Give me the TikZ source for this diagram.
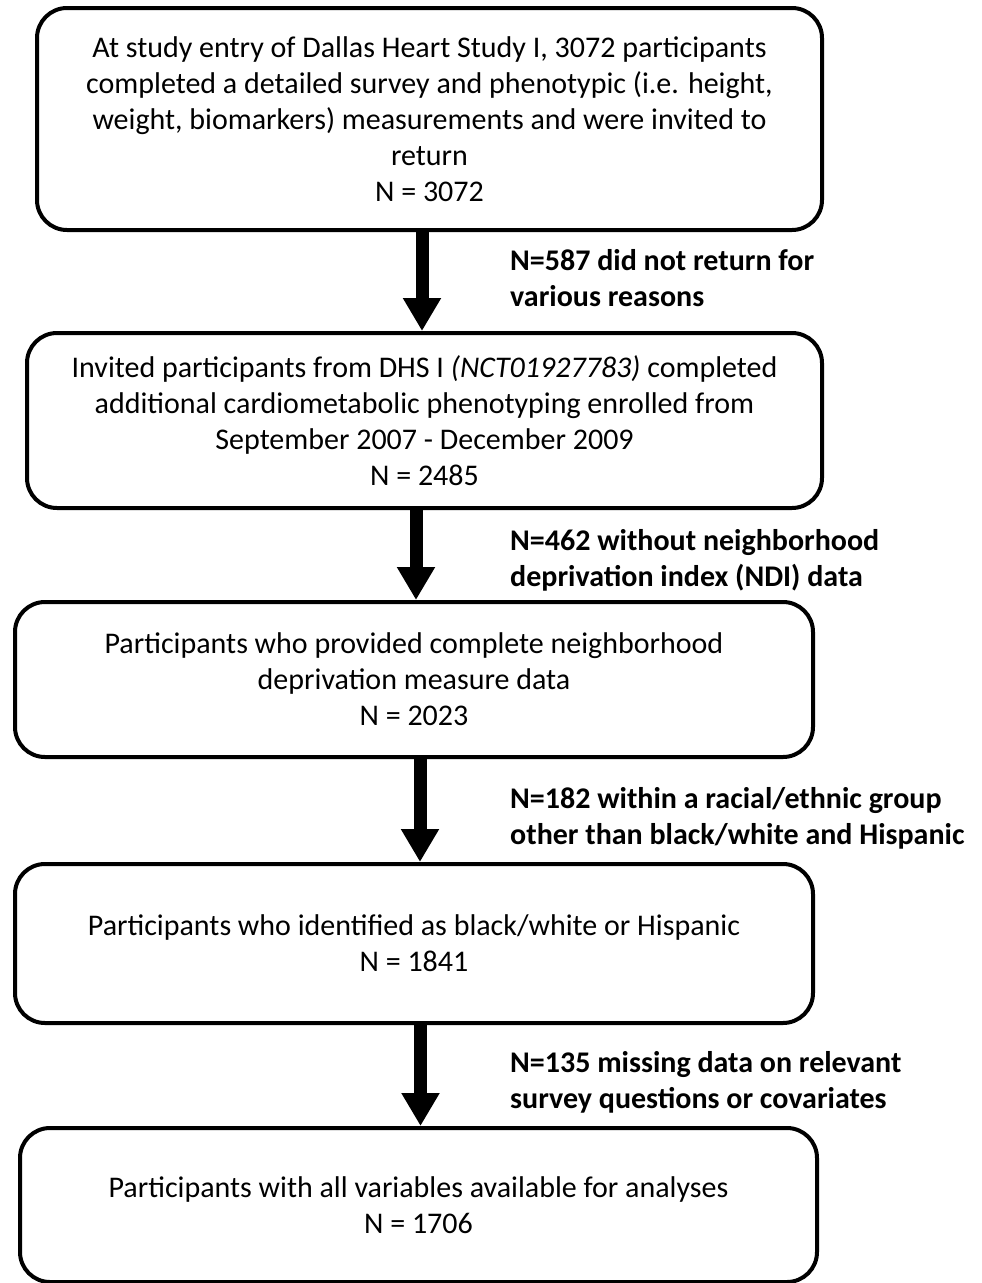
\documentclass[tikz,border=0pt]{standalone}
\usepackage{fontspec}
\setmainfont{Carlito}
\usetikzlibrary{arrows.meta}
\begin{document}
\begin{tikzpicture}[x=1pt,y=-1pt,
  box/.style={draw, line width=4pt, rounded corners=30pt, align=center,
    font=\fontsize{30}{36}\selectfont, inner sep=0pt},
  lab/.style={anchor=base west, align=left,
    font=\bfseries\fontsize{30}{36}\selectfont, inner sep=0pt},
  flow/.style={line width=13pt, -{Triangle[width=36pt,length=33pt]}}]
\useasboundingbox (0,0) rectangle (982,1283);

\node[box, minimum width=785pt, minimum height=222pt] (b1) at (429.5,119)
  {At study entry of Dallas Heart Study I, 3072 participants\\
   completed a detailed survey and phenotypic (i.e. height,\\
   weight, biomarkers) measurements and were invited to\\
   return\\
   N = 3072};
\node[box, minimum width=795pt, minimum height=175pt] (b2) at (424.5,420.5)
  {Invited participants from DHS I \textit{(NCT01927783)} completed\\
   additional cardiometabolic phenotyping enrolled from\\
   September 2007 - December 2009\\
   N = 2485};
\node[box, minimum width=798pt, minimum height=155pt] (b3) at (414,679.5)
  {Participants who provided complete neighborhood\\
   deprivation measure data\\
   N = 2023};
\node[box, minimum width=798pt, minimum height=159pt] (b4) at (414,943.5)
  {Participants who identified as black/white or Hispanic\\
   N = 1841};
\node[box, minimum width=797pt, minimum height=154pt] (b5) at (418.5,1205)
  {Participants with all variables available for analyses\\
   N = 1706};

\node[lab] (l1) at (510,306) {N=587 did not return for\\various reasons};
\node[lab] (l2) at (510,586) {N=462 without neighborhood\\deprivation index (NDI) data};
\node[lab] (l3) at (510,844) {N=182 within a racial/ethnic group\\other than black/white and Hispanic};
\node[lab] (l4) at (510,1108) {N=135 missing data on relevant\\survey questions or covariates};

\draw[flow] ([xshift=-7.5pt]b1.south) -- ([xshift=-7.5pt]b1.south |- b2.north);
\draw[flow] ([xshift=-8.5pt]b2.south) -- ([xshift=-8.5pt]b2.south |- b3.north);
\draw[flow] ([xshift=6pt]b3.south) -- ([xshift=6pt]b3.south |- b4.north);
\draw[flow] ([xshift=6.5pt]b4.south) -- ([xshift=6.5pt]b4.south |- b5.north);
\end{tikzpicture}
\end{document}
